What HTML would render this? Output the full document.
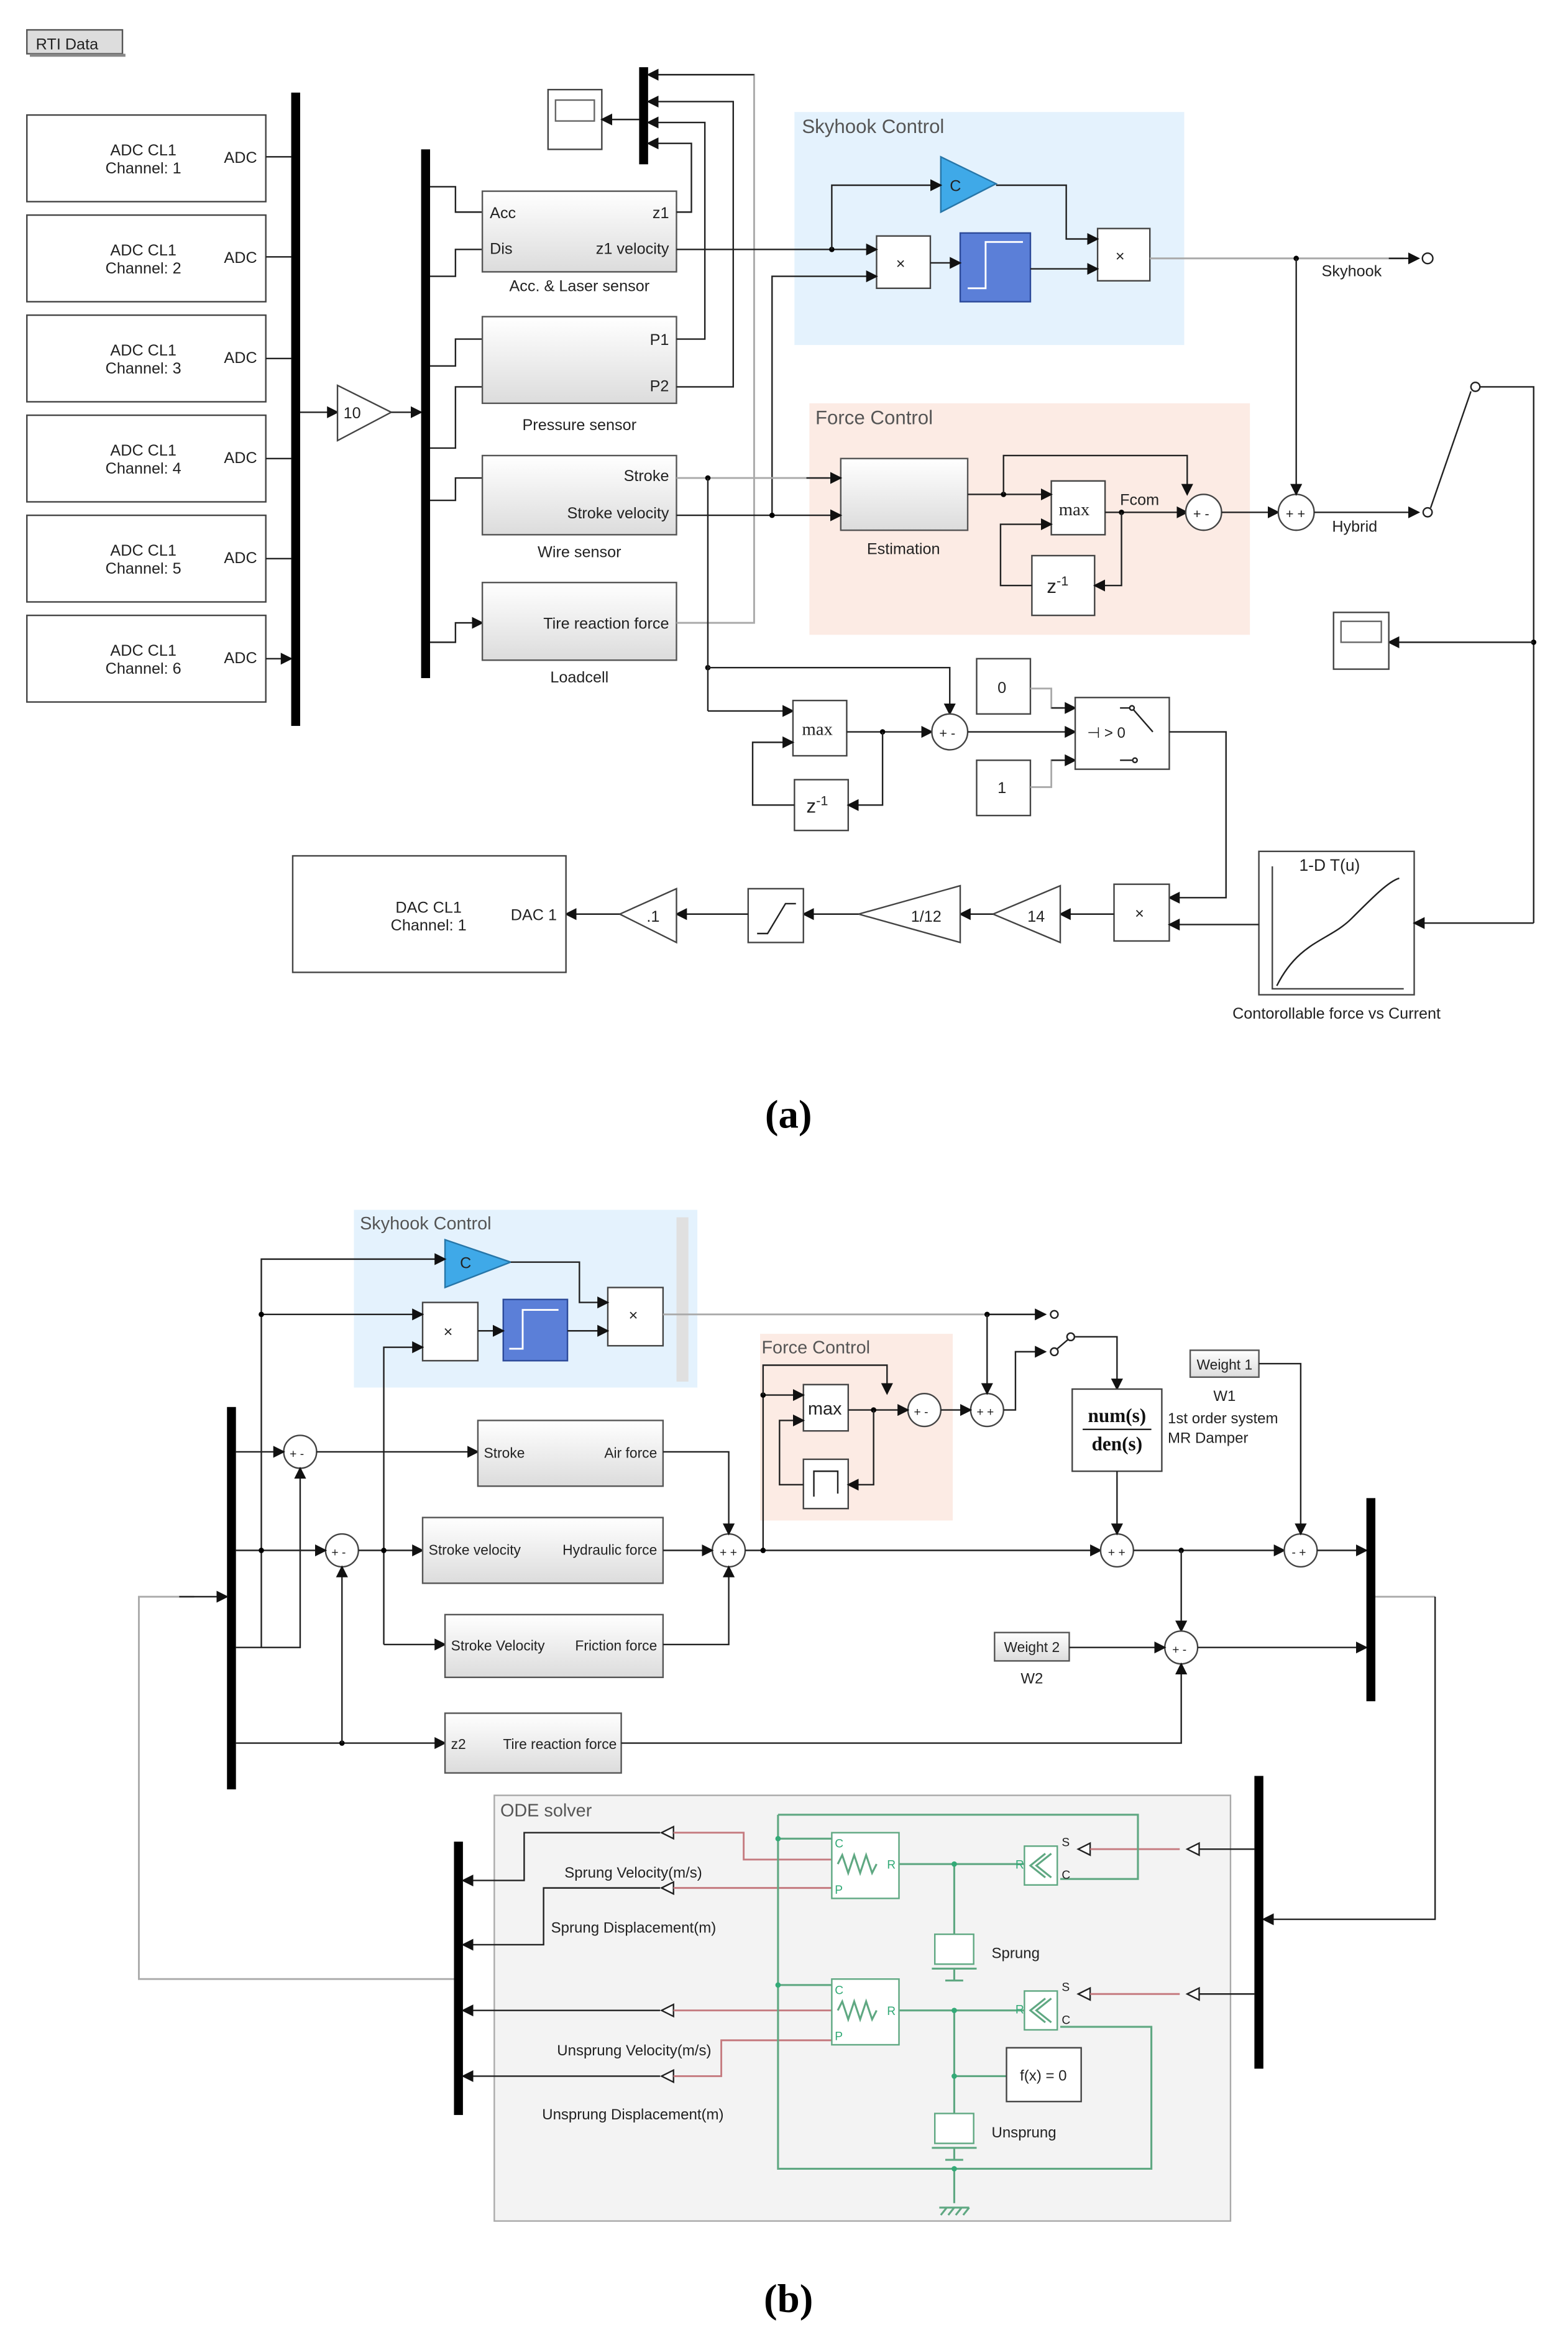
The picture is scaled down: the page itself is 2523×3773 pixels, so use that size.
<!DOCTYPE html>
<html><head><meta charset="utf-8"><style>
html,body{margin:0;padding:0;background:#fff;}
svg{display:block;}
text{font-family:"Liberation Sans",sans-serif;fill:#222;}
.s{font-size:10.5px;}
.blk{fill:url(#g);stroke:#555;stroke-width:1;}
.box{fill:#fff;stroke:#444;stroke-width:1;}
.ln{fill:none;stroke:#222;stroke-width:1;}
.gl{fill:none;stroke:#aaa;stroke-width:1.2;}
.gr{fill:none;stroke:#5fa882;stroke-width:1.3;}
.rd{fill:none;stroke:#c57b80;stroke-width:1.2;}
</style></head><body>
<svg width="2523" height="3773" viewBox="0 0 1050 1570" preserveAspectRatio="none" xmlns="http://www.w3.org/2000/svg">
<defs>
<linearGradient id="g" x1="0" y1="0" x2="0" y2="1"><stop offset="0" stop-color="#fff"/><stop offset="1" stop-color="#dcdcdc"/></linearGradient>
<marker id="a" markerWidth="8" markerHeight="8" refX="7" refY="4" orient="auto" markerUnits="userSpaceOnUse"><path d="M0,0 L8,4 L0,8z" fill="#111"/></marker>
</defs>
<rect width="1050" height="1570" fill="#fff"/>

<!-- ========== (a) ========== -->
<rect x="18" y="20" width="64" height="16" fill="#ddd" stroke="#555"/><rect x="20" y="36" width="64" height="2" fill="#888"/>
<text x="24" y="33" class="s">RTI Data</text>

<g>
<rect x="18" y="77" width="160" height="58" class="box"/><text x="96" y="104" class="s" text-anchor="middle">ADC CL1</text><text x="96" y="116" class="s" text-anchor="middle">Channel: 1</text><text x="150" y="109" class="s">ADC</text>
<rect x="18" y="144" width="160" height="58" class="box"/><text x="96" y="171" class="s" text-anchor="middle">ADC CL1</text><text x="96" y="183" class="s" text-anchor="middle">Channel: 2</text><text x="150" y="176" class="s">ADC</text>
<rect x="18" y="211" width="160" height="58" class="box"/><text x="96" y="238" class="s" text-anchor="middle">ADC CL1</text><text x="96" y="250" class="s" text-anchor="middle">Channel: 3</text><text x="150" y="243" class="s">ADC</text>
<rect x="18" y="278" width="160" height="58" class="box"/><text x="96" y="305" class="s" text-anchor="middle">ADC CL1</text><text x="96" y="317" class="s" text-anchor="middle">Channel: 4</text><text x="150" y="310" class="s">ADC</text>
<rect x="18" y="345" width="160" height="58" class="box"/><text x="96" y="372" class="s" text-anchor="middle">ADC CL1</text><text x="96" y="384" class="s" text-anchor="middle">Channel: 5</text><text x="150" y="377" class="s">ADC</text>
<rect x="18" y="412" width="160" height="58" class="box"/><text x="96" y="439" class="s" text-anchor="middle">ADC CL1</text><text x="96" y="451" class="s" text-anchor="middle">Channel: 6</text><text x="150" y="444" class="s">ADC</text>
<path class="ln" marker-end="url(#a)" d="M178,105H195M178,172H195M178,240H195M178,307H195M178,374H195M178,441H195"/>
</g>
<rect x="195" y="62" width="6" height="424" fill="#000"/>
<path class="ln" marker-end="url(#a)" d="M201,276H226"/>
<path d="M226,258 L262,276 L226,295z" fill="#fff" stroke="#444"/><text x="230" y="280" class="s">10</text>
<path class="ln" marker-end="url(#a)" d="M262,276H282"/>
<rect x="282" y="100" width="6" height="354" fill="#000"/>

<path class="ln" marker-end="url(#a)" d="M288,125H305V142H323M288,185H305V167H323M288,245H305V227H323M288,300H305V259H323M288,335H305V320H323M288,430H305V417H323"/>
<rect x="323" y="128" width="130" height="54" class="blk"/><text x="328" y="146" class="s">Acc</text><text x="328" y="170" class="s">Dis</text><text x="448" y="146" class="s" text-anchor="end">z1</text><text x="448" y="170" class="s" text-anchor="end">z1 velocity</text>
<text x="388" y="195" class="s" text-anchor="middle">Acc. &amp; Laser sensor</text>
<rect x="323" y="212" width="130" height="58" class="blk"/><text x="448" y="231" class="s" text-anchor="end">P1</text><text x="448" y="262" class="s" text-anchor="end">P2</text>
<text x="388" y="288" class="s" text-anchor="middle">Pressure sensor</text>
<rect x="323" y="305" width="130" height="53" class="blk"/><text x="448" y="322" class="s" text-anchor="end">Stroke</text><text x="448" y="347" class="s" text-anchor="end">Stroke velocity</text>
<text x="388" y="373" class="s" text-anchor="middle">Wire sensor</text>
<rect x="323" y="390" width="130" height="52" class="blk"/><text x="448" y="421" class="s" text-anchor="end">Tire reaction force</text>
<text x="388" y="457" class="s" text-anchor="middle">Loadcell</text>

<rect x="367" y="60" width="36" height="40" class="box"/><rect x="372" y="67" width="26" height="14" fill="#fff" stroke="#666"/>
<rect x="428" y="45" width="6" height="65" fill="#000"/>
<path class="ln" marker-end="url(#a)" d="M428,80H403"/>
<path class="ln" marker-end="url(#a)" d="M453,142H463V96H434"/>
<path class="ln" marker-end="url(#a)" d="M453,227H472V82H434"/>
<path class="ln" marker-end="url(#a)" d="M453,259H491V68H434"/>
<path class="gl" d="M453,417H505V50H440"/><path class="ln" marker-end="url(#a)" d="M505,50H434"/>

<rect x="532" y="75" width="261" height="156" fill="#e4f2fd"/>
<text x="537" y="89" style="font-size:13px;fill:#555">Skyhook Control</text>
<path d="M630,105 L667,123 L630,142z" fill="#3fa9e8" stroke="#2776a8"/><text x="636" y="128" class="s">C</text>
<rect x="587" y="158" width="36" height="35" class="box"/><text x="600" y="180" class="s">×</text>
<rect x="643" y="156" width="47" height="46" fill="#5b7fd8" stroke="#2c4a9a"/><path d="M648,193H660V162H685" fill="none" stroke="#fff" stroke-width="1.2"/>
<rect x="735" y="153" width="35" height="35" class="box"/><text x="747" y="175" class="s">×</text>
<path class="ln" marker-end="url(#a)" d="M453,167H587"/>
<circle cx="557" cy="167" r="1.8" fill="#000"/>
<path class="ln" marker-end="url(#a)" d="M557,167V124H630"/>
<path class="ln" marker-end="url(#a)" d="M667,124H714V160H735"/>
<path class="ln" marker-end="url(#a)" d="M623,176H643"/>
<path class="ln" marker-end="url(#a)" d="M690,180H735"/>
<path class="ln" marker-end="url(#a)" d="M517,345V185H587"/>
<path class="gl" d="M770,173H940"/><path class="ln" marker-end="url(#a)" d="M930,173H950"/><circle cx="956" cy="173" r="3.5" fill="#fff" stroke="#222"/>
<circle cx="868" cy="173" r="1.8" fill="#000"/><text x="885" y="185" class="s">Skyhook</text>

<rect x="542" y="270" width="295" height="155" fill="#fcebe4"/>
<text x="546" y="284" style="font-size:13px;fill:#555">Force Control</text>
<rect x="563" y="307" width="85" height="48" class="blk"/>
<text x="605" y="371" class="s" text-anchor="middle">Estimation</text>
<path class="gl" d="M453,320H555"/><path class="ln" marker-end="url(#a)" d="M540,320H563"/>
<path class="ln" marker-end="url(#a)" d="M453,345H563"/><circle cx="474" cy="320" r="1.8" fill="#000"/><circle cx="517" cy="345" r="1.8" fill="#000"/>
<rect x="704" y="322" width="36" height="36" class="box"/><text x="709" y="345" style="font-family:'Liberation Serif',serif;font-size:12px">max</text>
<rect x="691" y="372" width="42" height="40" class="box"/><text x="701" y="397" style="font-size:13px">z<tspan dy="-5" font-size="9">-1</tspan></text>
<path class="ln" marker-end="url(#a)" d="M648,331H704"/><circle cx="672" cy="331" r="1.8" fill="#000"/>
<path class="ln" marker-end="url(#a)" d="M672,331V305H795V331"/>
<path class="ln" marker-end="url(#a)" d="M740,343H795"/><circle cx="751" cy="343" r="1.8" fill="#000"/>
<path class="ln" marker-end="url(#a)" d="M751,343V392H733"/>
<path class="ln" marker-end="url(#a)" d="M691,392H670V351H704"/>
<text x="750" y="338" class="s">Fcom</text>
<circle cx="806" cy="343" r="12" fill="#fff" stroke="#444"/><text x="799" y="347" style="font-size:9px">+ -</text>
<path class="ln" marker-end="url(#a)" d="M818,343H856"/>
<circle cx="868" cy="343" r="12" fill="#fff" stroke="#444"/><text x="861" y="347" style="font-size:9px">+ +</text>
<path class="ln" marker-end="url(#a)" d="M868,173V331"/>
<path class="ln" marker-end="url(#a)" d="M880,343H950"/><circle cx="956" cy="343" r="3" fill="#fff" stroke="#222"/>
<text x="892" y="356" class="s">Hybrid</text>
<path class="ln" d="M958,340L985,262"/><circle cx="988" cy="259" r="3" fill="#fff" stroke="#222"/><path class="ln" d="M991,259H1027V618"/>
<circle cx="1027" cy="430" r="1.8" fill="#000"/>
<path class="ln" marker-end="url(#a)" d="M1027,430H930"/>
<rect x="893" y="410" width="37" height="38" class="box"/><rect x="898" y="416" width="27" height="14" fill="#fff" stroke="#666"/>

<circle cx="474" cy="447" r="1.8" fill="#000"/>
<path class="ln" d="M474,320V476"/>
<path class="ln" marker-end="url(#a)" d="M474,447H636V478"/>
<path class="ln" marker-end="url(#a)" d="M474,476H531"/>
<rect x="531" y="469" width="36" height="37" class="box"/><text x="537" y="492" style="font-family:'Liberation Serif',serif;font-size:12px">max</text>
<rect x="532" y="522" width="36" height="34" class="box"/><text x="540" y="544" style="font-size:13px">z<tspan dy="-5" font-size="9">-1</tspan></text>
<path class="ln" marker-end="url(#a)" d="M567,490H624"/><circle cx="591" cy="490" r="1.8" fill="#000"/>
<path class="ln" marker-end="url(#a)" d="M591,490V539H568"/>
<path class="ln" marker-end="url(#a)" d="M532,539H504V497H531"/>
<circle cx="636" cy="490" r="12" fill="#fff" stroke="#444"/><text x="629" y="494" style="font-size:9px">+ -</text>
<path class="ln" marker-end="url(#a)" d="M648,490H720"/>
<rect x="654" y="441" width="36" height="37" class="box"/><text x="668" y="464" class="s">0</text>
<rect x="654" y="509" width="36" height="37" class="box"/><text x="668" y="531" class="s">1</text>
<path class="gl" d="M690,461H704V474H712"/><path class="ln" marker-end="url(#a)" d="M704,474H720"/>
<path class="gl" d="M690,527H704V509H712"/><path class="ln" marker-end="url(#a)" d="M704,509H720"/>
<rect x="720" y="467" width="63" height="48" class="box"/><text x="728" y="494" style="font-size:10px">⊣ &gt; 0</text>
<path class="ln" d="M750,474H758L772,490M750,509H758"/><circle cx="758" cy="474" r="1.5" fill="#fff" stroke="#222"/><circle cx="760" cy="509" r="1.5" fill="#fff" stroke="#222"/>
<path class="ln" marker-end="url(#a)" d="M783,490H821V601H783"/>
<rect x="746" y="592" width="37" height="38" class="box"/><text x="760" y="615" class="s">×</text>
<rect x="843" y="570" width="104" height="96" class="box"/><text x="870" y="583" style="font-size:11px">1-D T(u)</text>
<path d="M852,580V662H940" fill="none" stroke="#444"/><path d="M855,660C870,630 890,630 905,615 920,600 930,590 937,588" fill="none" stroke="#222"/>
<text x="895" y="682" class="s" text-anchor="middle">Contorollable force vs Current</text>
<path class="ln" marker-end="url(#a)" d="M843,619H783"/>
<path class="ln" marker-end="url(#a)" d="M1027,618H947"/>
<path class="ln" marker-end="url(#a)" d="M746,612H710"/>
<path d="M710,593L665,612L710,631z" fill="#fff" stroke="#444"/><text x="688" y="617" class="s">14</text>
<path class="ln" marker-end="url(#a)" d="M665,612H643"/>
<path d="M643,593L575,612L643,631z" fill="#fff" stroke="#444"/><text x="610" y="617" class="s">1/12</text>
<path class="ln" marker-end="url(#a)" d="M575,612H538"/>
<rect x="501" y="595" width="37" height="36" class="box"/><path d="M507,625H514L526,605H533" fill="none" stroke="#222"/>
<path class="ln" marker-end="url(#a)" d="M501,612H453"/>
<path d="M453,595L415,612L453,631z" fill="#fff" stroke="#444"/><text x="433" y="617" class="s">.1</text>
<path class="ln" marker-end="url(#a)" d="M415,612H379"/>
<rect x="196" y="573" width="183" height="78" class="box"/><text x="287" y="611" class="s" text-anchor="middle">DAC CL1</text><text x="287" y="623" class="s" text-anchor="middle">Channel: 1</text><text x="342" y="616" class="s">DAC 1</text>
<text x="528" y="755" text-anchor="middle" style="font-family:'Liberation Serif',serif;font-size:27px;font-weight:bold;fill:#000">(a)</text>

<!-- ========== (b) ========== -->
<rect x="237" y="810" width="230" height="119" fill="#e4f2fd"/>
<rect x="453" y="815" width="8" height="110" fill="#e0e0e0"/>
<text x="241" y="823" style="font-size:12px;fill:#555">Skyhook Control</text>
<path d="M298,830L342,845L298,862z" fill="#3fa9e8" stroke="#2776a8"/><text x="308" y="849" class="s">C</text>
<rect x="283" y="872" width="37" height="39" class="box"/><text x="297" y="895" class="s">×</text>
<rect x="337" y="870" width="43" height="41" fill="#5b7fd8" stroke="#2c4a9a"/><path d="M341,903H350V877H374" fill="none" stroke="#fff" stroke-width="1.2"/>
<rect x="407" y="862" width="37" height="39" class="box"/><text x="421" y="884" class="s">×</text>
<path class="ln" marker-end="url(#a)" d="M175,1103V843H298"/>
<path class="ln" marker-end="url(#a)" d="M342,845H388V872H407"/>
<path class="ln" marker-end="url(#a)" d="M175,880H283"/><circle cx="175" cy="880" r="1.8" fill="#000"/>
<path class="ln" marker-end="url(#a)" d="M320,891H337"/>
<path class="ln" marker-end="url(#a)" d="M380,891H407"/>
<path class="ln" marker-end="url(#a)" d="M257,1101V902H283"/>
<path class="gl" d="M444,880H700"/><path class="ln" marker-end="url(#a)" d="M661,880H700"/><circle cx="706" cy="880" r="2.5" fill="#fff" stroke="#222"/>
<circle cx="661" cy="880" r="1.8" fill="#000"/>
<path class="ln" d="M708,903L715,897"/><circle cx="706" cy="905" r="2.5" fill="#fff" stroke="#222"/><circle cx="717" cy="895" r="2.5" fill="#fff" stroke="#222"/>
<path class="ln" marker-end="url(#a)" d="M720,895H748V930"/>

<rect x="509" y="893" width="129" height="125" fill="#fcebe4"/>
<text x="510" y="906" style="font-size:12px;fill:#555">Force Control</text>
<rect x="538" y="927" width="30" height="31" class="box"/><text x="541" y="947" style="font-size:12px">max</text>
<rect x="538" y="977" width="30" height="33" class="box"/><path d="M545,1002V985H561V1000" fill="none" stroke="#222"/>
<circle cx="619" cy="944" r="11" fill="#fff" stroke="#444"/><text x="612" y="948" style="font-size:8px">+ -</text>
<circle cx="661" cy="944" r="11" fill="#fff" stroke="#444"/><text x="654" y="948" style="font-size:8px">+ +</text>
<path class="ln" marker-end="url(#a)" d="M511,1038V934H538"/><circle cx="511" cy="934" r="1.8" fill="#000"/>
<path class="ln" marker-end="url(#a)" d="M511,934V914H594V933"/>
<path class="ln" marker-end="url(#a)" d="M568,944H608"/><circle cx="585" cy="944" r="1.8" fill="#000"/>
<path class="ln" marker-end="url(#a)" d="M585,944V994H568"/>
<path class="ln" marker-end="url(#a)" d="M538,994H522V951H538"/>
<path class="ln" marker-end="url(#a)" d="M630,944H650"/>
<path class="ln" marker-end="url(#a)" d="M661,880V933"/>
<path class="ln" marker-end="url(#a)" d="M672,944H680V905H700"/>

<rect x="718" y="930" width="60" height="55" class="box"/><text x="748" y="952" text-anchor="middle" style="font-family:'Liberation Serif',serif;font-size:13px;font-weight:bold;fill:#111">num(s)</text><path d="M725,957H771" stroke="#222"/><text x="748" y="971" text-anchor="middle" style="font-family:'Liberation Serif',serif;font-size:13px;font-weight:bold;fill:#111">den(s)</text>
<rect x="797" y="904" width="46" height="18" class="blk"/><text x="820" y="917" text-anchor="middle" style="font-size:9.5px">Weight 1</text>
<text x="820" y="938" text-anchor="middle" style="font-size:10px">W1</text>
<text x="782" y="953" style="font-size:10px">1st order system</text><text x="782" y="966" style="font-size:10px">MR Damper</text>

<rect x="152" y="942" width="6" height="256" fill="#000"/>
<circle cx="201" cy="972" r="11" fill="#fff" stroke="#444"/><text x="194" y="976" style="font-size:8px">+ -</text>
<circle cx="229" cy="1038" r="11" fill="#fff" stroke="#444"/><text x="222" y="1042" style="font-size:8px">+ -</text>
<path class="ln" marker-end="url(#a)" d="M158,972H190"/>
<path class="ln" marker-end="url(#a)" d="M212,972H320"/>
<path class="ln" marker-end="url(#a)" d="M158,1038H218"/><circle cx="175" cy="1038" r="1.8" fill="#000"/>
<path class="ln" marker-end="url(#a)" d="M240,1038H283"/><circle cx="257" cy="1038" r="1.8" fill="#000"/>
<path class="ln" marker-end="url(#a)" d="M158,1103H201V983"/>
<path class="ln" marker-end="url(#a)" d="M158,1167H298"/><circle cx="229" cy="1167" r="1.8" fill="#000"/>
<path class="ln" marker-end="url(#a)" d="M229,1167V1049"/>
<path class="ln" marker-end="url(#a)" d="M257,1101H298"/>
<rect x="320" y="951" width="124" height="44" class="blk"/><text x="324" y="976" style="font-size:9.5px">Stroke</text><text x="440" y="976" text-anchor="end" style="font-size:9.5px">Air force</text>
<rect x="283" y="1016" width="161" height="44" class="blk"/><text x="287" y="1041" style="font-size:9.5px">Stroke velocity</text><text x="440" y="1041" text-anchor="end" style="font-size:9.5px">Hydraulic force</text>
<rect x="298" y="1081" width="146" height="42" class="blk"/><text x="302" y="1105" style="font-size:9.5px">Stroke Velocity</text><text x="440" y="1105" text-anchor="end" style="font-size:9.5px">Friction force</text>
<rect x="298" y="1147" width="118" height="40" class="blk"/><text x="302" y="1171" style="font-size:9.5px">z2</text><text x="413" y="1171" text-anchor="end" style="font-size:9.5px">Tire reaction force</text>
<circle cx="488" cy="1038" r="11" fill="#fff" stroke="#444"/><text x="482" y="1042" style="font-size:8px">+ +</text>
<path class="ln" marker-end="url(#a)" d="M444,972H488V1027"/>
<path class="ln" marker-end="url(#a)" d="M444,1038H477"/>
<path class="ln" marker-end="url(#a)" d="M444,1101H488V1049"/>
<path class="ln" marker-end="url(#a)" d="M499,1038H737"/><circle cx="511" cy="1038" r="1.8" fill="#000"/>
<circle cx="748" cy="1038" r="11" fill="#fff" stroke="#444"/><text x="742" y="1042" style="font-size:8px">+ +</text>
<path class="ln" marker-end="url(#a)" d="M748,985V1027"/>
<path class="ln" marker-end="url(#a)" d="M759,1038H860"/><circle cx="791" cy="1038" r="1.8" fill="#000"/>
<circle cx="871" cy="1038" r="11" fill="#fff" stroke="#444"/><text x="865" y="1042" style="font-size:8px">- +</text>
<path class="ln" marker-end="url(#a)" d="M843,913H871V1027"/>
<path class="ln" marker-end="url(#a)" d="M882,1038H915"/>
<path class="ln" marker-end="url(#a)" d="M791,1038V1092"/>
<circle cx="791" cy="1103" r="11" fill="#fff" stroke="#444"/><text x="785" y="1107" style="font-size:8px">+ -</text>
<rect x="666" y="1093" width="50" height="19" class="blk"/><text x="691" y="1106" text-anchor="middle" style="font-size:9.5px">Weight 2</text>
<text x="691" y="1127" text-anchor="middle" style="font-size:10px">W2</text>
<path class="ln" marker-end="url(#a)" d="M716,1103H780"/>
<path class="ln" marker-end="url(#a)" d="M416,1167H791V1114"/>
<path class="ln" marker-end="url(#a)" d="M802,1103H915"/>
<rect x="915" y="1003" width="6" height="136" fill="#000"/>
<path class="gl" d="M921,1069H961"/><path class="ln" marker-end="url(#a)" d="M961,1069V1285H846"/>
<path class="gl" d="M304,1325H93V1069H130"/><path class="ln" marker-end="url(#a)" d="M120,1069H152"/>

<rect x="331" y="1202" width="493" height="285" fill="#f3f3f3" stroke="#aaa"/>
<text x="335" y="1216" style="font-size:12px;fill:#555">ODE solver</text>
<rect x="304" y="1233" width="6" height="183" fill="#000"/>
<rect x="840" y="1189" width="6" height="196" fill="#000"/>
<path class="ln" marker-end="url(#a)" d="M442,1227H351V1259H310"/>
<path class="ln" marker-end="url(#a)" d="M442,1264H364V1302H310"/>
<path class="ln" marker-end="url(#a)" d="M442,1346H310"/>
<path class="ln" marker-end="url(#a)" d="M442,1390H310"/>
<g fill="#fff" stroke="#222"><path d="M443,1227l8,-4v8z"/><path d="M443,1264l8,-4v8z"/><path d="M443,1346l8,-4v8z"/><path d="M443,1390l8,-4v8z"/>
<path d="M795,1238l8,-4v8z"/><path d="M795,1335l8,-4v8z"/><path d="M722,1238l8,-4v8z"/><path d="M722,1335l8,-4v8z"/></g>
<path class="ln" d="M803,1238H840M803,1335H840"/>
<path class="rd" d="M451,1227H498V1245H557M451,1264H557M451,1346H557M451,1390H483V1366H557M730,1238H790M730,1335H790"/>
<text x="378" y="1257" style="font-size:10px">Sprung Velocity(m/s)</text>
<text x="369" y="1294" style="font-size:10px">Sprung Displacement(m)</text>
<text x="373" y="1376" style="font-size:10px">Unsprung Velocity(m/s)</text>
<text x="363" y="1419" style="font-size:10px">Unsprung Displacement(m)</text>
<path class="gr" d="M521,1215H762V1258H710M521,1215V1452H771V1357H710M521,1231H557M521,1329H557M602,1248H686M602,1346H686M639,1248V1295M639,1346V1415M639,1390H674M639,1452V1475"/>
<rect x="557" y="1227" width="45" height="44" fill="#fff" stroke="#5fa882"/><text x="559" y="1237" style="font-size:8px;fill:#3a7">C</text><text x="559" y="1268" style="font-size:8px;fill:#3a7">P</text><text x="594" y="1251" style="font-size:8px;fill:#3a7">R</text>
<path class="gr" d="M561,1248l3,-6l4,12l4,-12l4,12l4,-12l4,12l3,-6"/>
<rect x="557" y="1325" width="45" height="44" fill="#fff" stroke="#5fa882"/><text x="559" y="1335" style="font-size:8px;fill:#3a7">C</text><text x="559" y="1366" style="font-size:8px;fill:#3a7">P</text><text x="594" y="1349" style="font-size:8px;fill:#3a7">R</text>
<path class="gr" d="M561,1346l3,-6l4,12l4,-12l4,12l4,-12l4,12l3,-6"/>
<rect x="686" y="1236" width="22" height="26" fill="#fff" stroke="#5fa882"/><path class="gr" d="M704,1241l-10,8l10,8M700,1241l-10,8l10,8"/>
<rect x="686" y="1333" width="22" height="26" fill="#fff" stroke="#5fa882"/><path class="gr" d="M704,1338l-10,8l10,8M700,1338l-10,8l10,8"/>
<text x="680" y="1251" style="font-size:8px;fill:#3a7">R</text><text x="711" y="1236" style="font-size:8px">S</text><text x="711" y="1258" style="font-size:8px">C</text>
<text x="680" y="1348" style="font-size:8px;fill:#3a7">R</text><text x="711" y="1333" style="font-size:8px">S</text><text x="711" y="1355" style="font-size:8px">C</text>
<rect x="626" y="1295" width="26" height="20" fill="#fff" stroke="#5fa882"/><path class="gr" d="M624,1318H654M639,1318V1326M633,1326H645"/>
<rect x="626" y="1415" width="26" height="20" fill="#fff" stroke="#5fa882"/><path class="gr" d="M624,1438H654M639,1438V1446M633,1446H645"/>
<path class="gr" d="M629,1478H649M630,1483l4,-5M635,1483l4,-5M640,1483l4,-5M645,1483l4,-5"/>
<g fill="#3a7"><circle cx="521" cy="1231" r="1.8"/><circle cx="521" cy="1329" r="1.8"/><circle cx="639" cy="1248" r="1.8"/><circle cx="639" cy="1346" r="1.8"/><circle cx="639" cy="1390" r="1.8"/><circle cx="639" cy="1452" r="1.8"/></g>
<rect x="674" y="1371" width="50" height="36" fill="#fff" stroke="#444"/><text x="683" y="1393" style="font-size:10px">f(x) = 0</text>
<text x="664" y="1311" style="font-size:10px">Sprung</text>
<text x="664" y="1431" style="font-size:10px">Unsprung</text>
<text x="528" y="1548" text-anchor="middle" style="font-family:'Liberation Serif',serif;font-size:27px;font-weight:bold;fill:#000">(b)</text>
</svg>
</body></html>
